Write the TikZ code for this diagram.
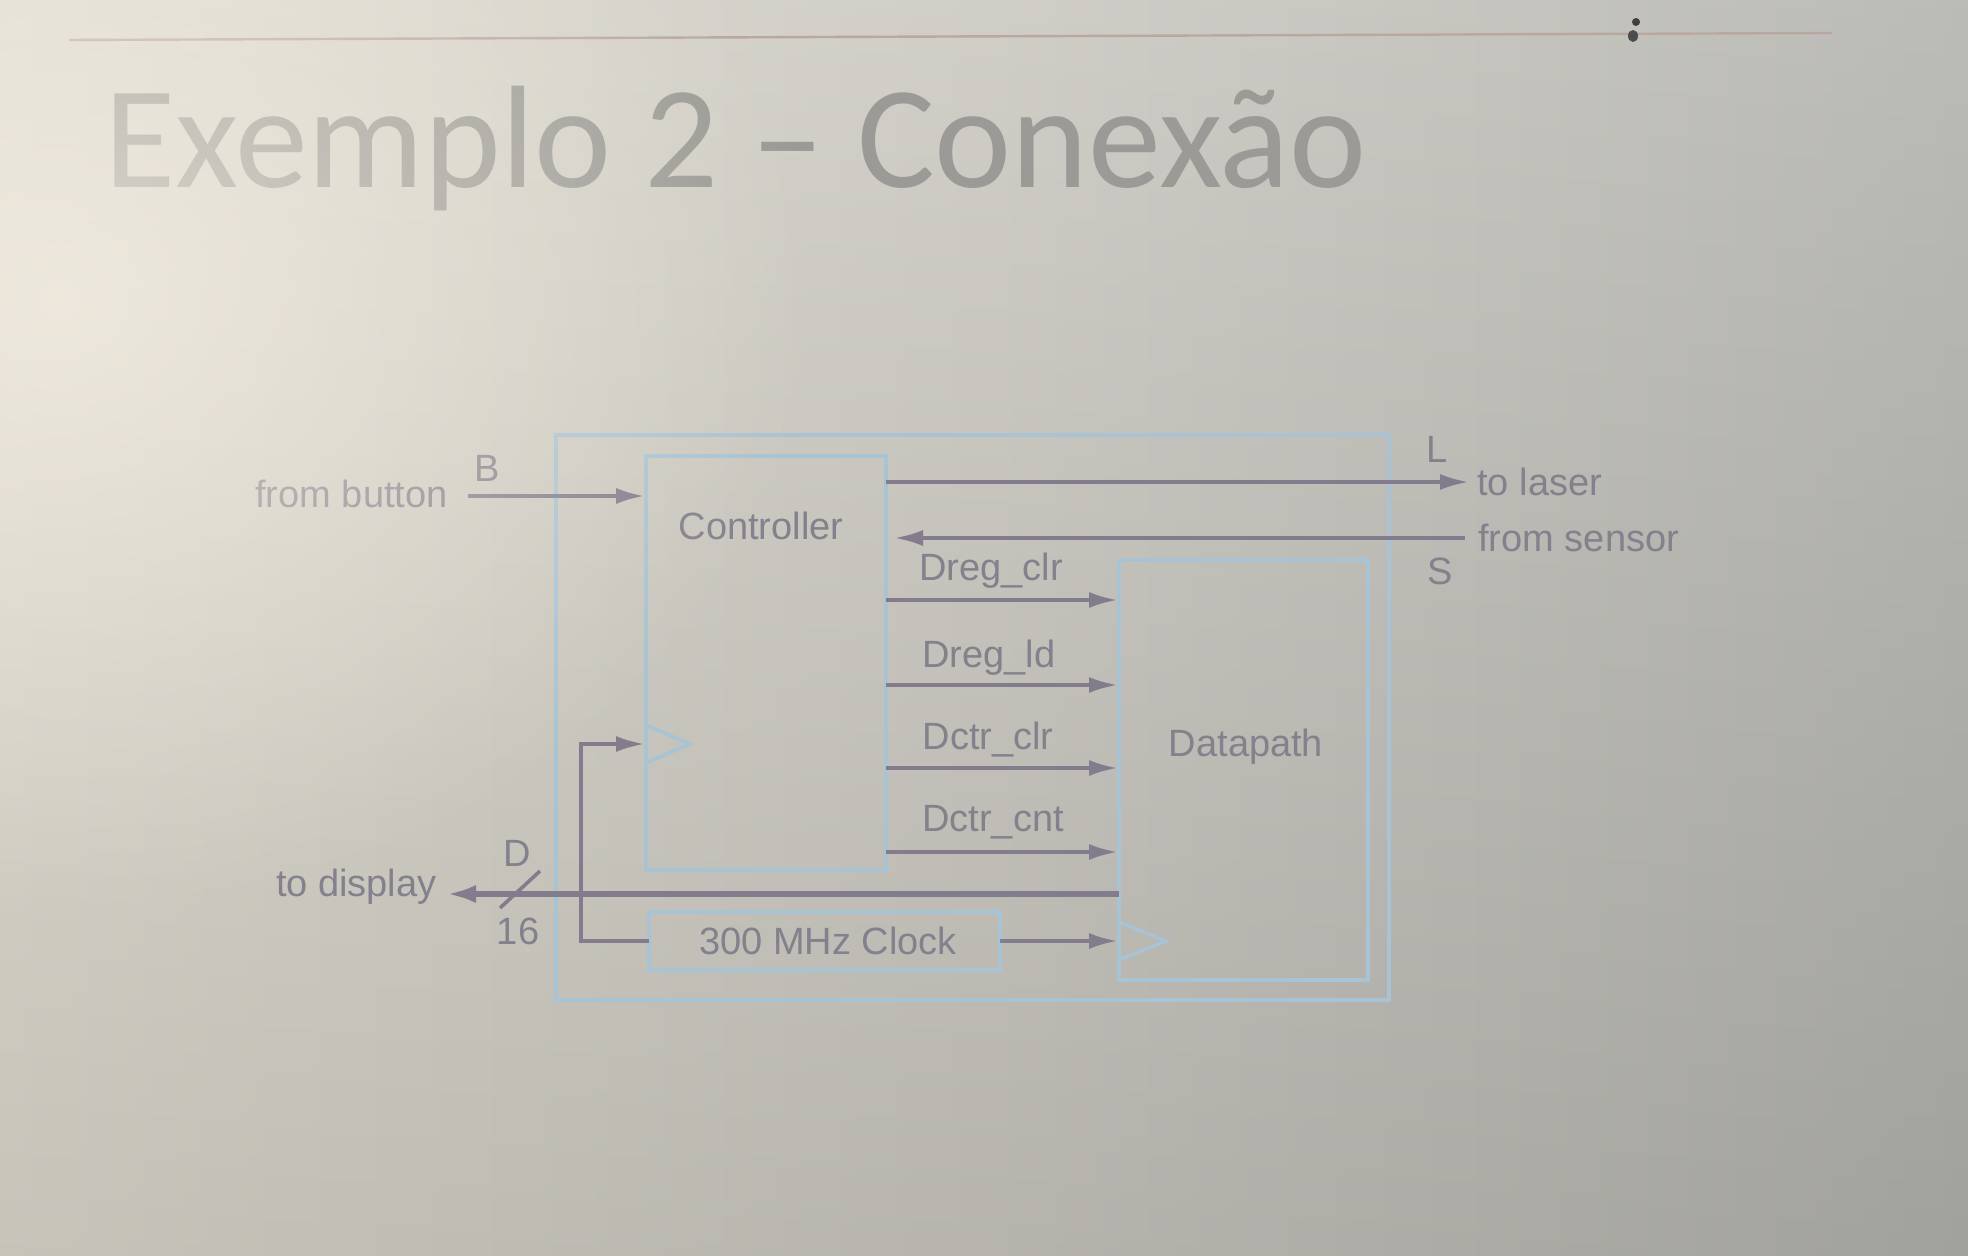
\documentclass[tikz,border=0pt]{standalone}
\usepackage{fontspec}
\setmainfont{Liberation Sans}
\newfontfamily\titlefont{Carlito}
\usetikzlibrary{arrows.meta,fadings}
\definecolor{bgL}{RGB}{222,218,207}
\definecolor{bgM}{RGB}{203,201,193}
\definecolor{bgR}{RGB}{180,180,175}
\definecolor{glowc}{RGB}{244,238,226}
\definecolor{wire}{RGB}{130,124,140}
\definecolor{boxc}{RGB}{168,195,211}
\definecolor{txt}{RGB}{132,128,140}
\definecolor{ttl}{RGB}{155,154,150}
\definecolor{rulec}{RGB}{186,168,160}
\tikzfading[name=glowfade, inner color=transparent!0, outer color=transparent!100]
\begin{document}
\begin{tikzpicture}[x=0.5pt,y=-0.5pt,
  blk/.style={draw=boxc, line width=1.8pt, inner sep=0pt, outer sep=0pt},
  sig/.style={draw=wire, line width=2.4pt, -{Latex[length=15pt,width=8pt]}},
  bus/.style={draw=wire, line width=3.4pt, -{Latex[length=15pt,width=9pt]}},
  lbl/.style={text=txt, font=\fontsize{19}{20}\selectfont, inner sep=0pt},
  clktri/.style={draw=boxc, line width=1.8pt},
]
% background (photo of a projected slide)
\useasboundingbox (0,0) rectangle (1968,1256);
\shade[left color=bgL, right color=bgR, middle color=bgM] (0,0) rectangle (1968,1256);
\shade[top color=white, bottom color=black, opacity=0.10] (0,0) rectangle (1968,1256);
% top rule and dark mark
\draw[rulec, line width=1.2pt] (69,40) -- (1832,33);
\fill[black!75] (1636,22) circle (4);
\fill[black!70] (1633,36) ellipse (5 and 6);
% title
\node[anchor=base west, inner sep=0pt, text=ttl, font=\titlefont\fontsize{73}{76}\selectfont] (title) at (104,188) {Exemplo 2 – Conexão};

% blocks
\node[blk, minimum width=416.5pt, minimum height=282.5pt] (outer) at (972.5,717.5) {};
\node[blk, minimum width=120pt, minimum height=207pt] (ctrl) at (766,663) {};
\node[blk, minimum width=124.5pt, minimum height=210pt] (dp) at (1243.5,770) {};
\node[blk, minimum width=175.5pt, minimum height=29pt] (clk) at (824.5,941) {};
\node[lbl] (ctrllbl) at (761,526) {Controller};
\node[lbl] (dplbl) at (1246,747) {Datapath};
\node[lbl] (clklbl) at (828,941) {300 MHz Clock};

% helper coordinates
\coordinate (yB) at (0,496);
\coordinate (yL) at (0,482);
\coordinate (yS) at (0,538);
\coordinate (y1) at (0,600);
\coordinate (y2) at (0,685);
\coordinate (y3) at (0,768);
\coordinate (y4) at (0,852);
\coordinate (yD) at (0,894);
\coordinate (yC) at (0,744);
\coordinate (t1) at (0,725);
\coordinate (t2) at (0,763);
\coordinate (t3) at (0,922);
\coordinate (t4) at (0,960);
\coordinate (btn) at (468,496);
\coordinate (laser) at (1470,482);
\coordinate (sensor) at (1465,538);
\coordinate (disp) at (446,894);
\coordinate (fbk) at (581,941);

% clock triangles
\draw[clktri] (ctrl.west |- t1) -- (690,744) -- (ctrl.west |- t2);
\draw[clktri] (dp.west |- t3) -- (1166,941) -- (dp.west |- t4);

% external signals
\draw[sig] (btn) -- (ctrl.west |- yB);
\node[lbl, anchor=east] (btnlbl) at (448,494) {from button};
\node[lbl] (Blbl) at (487,468) {B};

\draw[sig] (ctrl.east |- yL) -- (laser);
\node[lbl, anchor=west] (laserlbl) at (1477,482) {to laser};
\node[lbl] (Llbl) at (1437,449) {L};

\draw[sig] (sensor) -- (893,538);
\node[lbl, anchor=west] (senslbl) at (1478,538) {from sensor};
\node[lbl] (Slbl) at (1440,571) {S};

% control signals
\draw[sig] (ctrl.east |- y1) -- (dp.west |- y1);
\draw[sig] (ctrl.east |- y2) -- (dp.west |- y2);
\draw[sig] (ctrl.east |- y3) -- (dp.west |- y3);
\draw[sig] (ctrl.east |- y4) -- (dp.west |- y4);
\node[lbl] (l1) at (991,571) {Dreg\_clr};
\node[lbl] (l2) at (989,658) {Dreg\_ld};
\node[lbl] (l3) at (988,740) {Dctr\_clr};
\node[lbl] (l4) at (993,822) {Dctr\_cnt};

% display bus
\draw[bus] (dp.west |- yD) -- (disp);
\draw[wire, line width=1.8pt] (500,908) -- (540,871);
\node[lbl, anchor=east] (displbl) at (437,887) {to display};
\node[lbl] (Dlbl) at (517,853) {D};
\node[lbl] (n16) at (518,931) {16};

% clock distribution
\draw[sig] (clk.west) -- (fbk) -- (fbk |- yC) -- (ctrl.west |- yC);
\draw[sig] (clk.east) -- (dp.west |- clk.east);

% photo lighting: bright glow from the upper left
\fill[glowc, path fading=glowfade, fill opacity=0.75] (60,300) ellipse (760 and 620);
\end{tikzpicture}
\end{document}
